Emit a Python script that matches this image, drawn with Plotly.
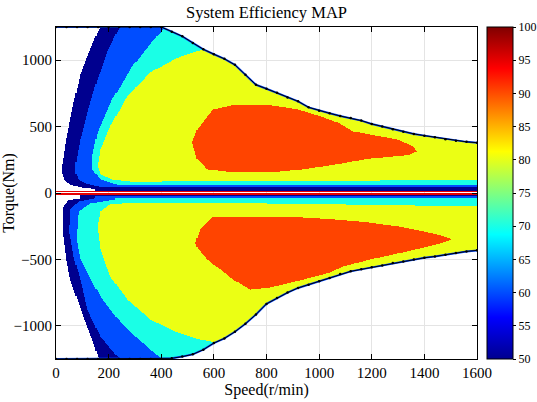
import numpy as np
import plotly.graph_objects as go

# ---------------- data ----------------
# torque envelope (Nm) sampled every 40 r/min from 0 to 1600
env_speed = list(range(0, 1601, 40))
env_upper = [1250] * 11 + [1215, 1180, 1130, 1082, 1045, 1010, 965, 890, 815, 785,
                           755, 720, 690, 645, 620, 600, 580, 565, 545, 520,
                           500, 480, 462, 445, 432, 420, 405, 393, 385, 379]
env_lower = [-1250] * 11 + [-1245, -1232, -1215, -1180, -1130, -1095, -1045, -985, -915, -835,
                            -790, -750, -715, -690, -665, -640, -610, -590, -575, -560,
                            -545, -528, -515, -500, -488, -478, -465, -452, -440, -432]

# low-speed (left) edges of each efficiency band: torque -> speed
up_50_T = [1255, 1082, 894, 629, 403, 214, 139, 93, 63, 41, 29]
up_50_S = [168, 130, 92, 62, 39, 24, 24, 32, 54, 92, 149]
up_60_T = [1255, 1082, 855, 629, 403, 252, 161, 101, 71, 48]
up_60_S = [244, 199, 157, 123, 92, 77, 73, 84, 111, 161]
up_70_T = [1233, 1119, 953, 704, 455, 274, 176, 101, 61]
up_70_S = [408, 358, 290, 214, 157, 138, 138, 168, 233]
up_80_T = [1081, 1028, 908, 727, 501, 328, 200, 139, 100, 85]
up_80_S = [561, 473, 358, 271, 206, 168, 157, 168, 214, 282]

lo_50_T = [-42, -57, -103, -276, -502, -653, -804, -955, -1105, -1241]
lo_50_S = [92, 47, 28, 24, 39, 54, 81, 108, 138, 161]
lo_60_T = [-42, -65, -125, -299, -502, -653, -879, -1083, -1241]
lo_60_S = [149, 85, 54, 51, 70, 92, 119, 168, 237]
lo_70_T = [-50, -80, -140, -351, -502, -615, -804, -992, -1128, -1241]
lo_70_S = [226, 130, 85, 77, 92, 122, 176, 252, 328, 396]
lo_80_T = [-72, -85, -140, -253, -427, -630, -804, -955, -1053, -1105, -1128]
lo_80_S = [320, 206, 168, 157, 168, 206, 271, 358, 461, 548, 613]

# torque cut-offs of the bands near zero torque (vs speed)
cut_speed = [0, 400, 800, 1200, 1600]
up_cut = {50: [17] * 5, 60: [41] * 5, 70: [61] * 5, 80: [85, 85, 86, 92, 99]}
lo_cut = {50: [-15] * 5, 60: [-27] * 5, 70: [-40] * 5, 80: [-72, -74, -80, -90, -102]}
stripe_inner = 4    # |T| below this: no data (white line)
stripe_outer = 14   # |T| up to this: >= 90 % (red lines)

# >=90 % islands (speed, torque)
red_up_S = [518, 537, 567, 598, 674, 814, 917, 1004, 1069, 1130, 1194, 1297, 1358, 1373,
            1346, 1320, 1194, 1069, 940, 814, 674, 575, 537]
red_up_T = [380, 478, 554, 629, 660, 660, 629, 576, 531, 463, 440, 403, 350, 313,
            290, 282, 259, 214, 176, 154, 154, 176, 252]
red_lo_S = [530, 548, 598, 814, 940, 1069, 1194, 1320, 1449, 1506, 1449, 1320, 1194,
            1092, 1042, 940, 814, 738, 674, 575, 541]
red_lo_T = [-379, -276, -178, -178, -185, -201, -223, -261, -314, -351, -389, -449, -502,
            -555, -600, -653, -713, -728, -653, -502, -427]

band_values = [55, 65, 75, 85, 95]
band_colors = ['rgb(0,0,143)', 'rgb(0,77,255)', 'rgb(26,255,230)', 'rgb(235,255,20)', 'rgb(255,68,0)']
stripe_value = 92
x_ticks = list(range(0, 1601, 200))
y_ticks = [-1000, -500, 0, 500, 1000]
cb_ticks = list(range(50, 101, 5))

# ---------------- build efficiency grid ----------------
sp = np.arange(0, 1601, 4, dtype=float)
tq = np.arange(-1250, 1250.1, 2.5, dtype=float)
S, T = np.meshgrid(sp, tq)

inside = (T <= np.interp(S, env_speed, env_upper)) & (T >= np.interp(S, env_speed, env_lower))


def edge(tv, sv):
    tv = np.asarray(tv, float)
    sv = np.asarray(sv, float)
    o = np.argsort(tv)
    return np.interp(T, tv[o], sv[o])


def in_poly(xs, ys):
    res = np.zeros(S.shape, bool)
    n = len(xs)
    j = n - 1
    for i in range(n):
        xi, yi, xj, yj = xs[i], ys[i], xs[j], ys[j]
        if yj != yi:
            cond = ((yi > T) != (yj > T)) & (S < (xj - xi) * (T - yi) / (yj - yi) + xi)
            res ^= cond
        j = i
    return res


Z = np.full(S.shape, np.nan, dtype=np.float32)
edges_up = {50: (up_50_T, up_50_S), 60: (up_60_T, up_60_S), 70: (up_70_T, up_70_S), 80: (up_80_T, up_80_S)}
edges_lo = {50: (lo_50_T, lo_50_S), 60: (lo_60_T, lo_60_S), 70: (lo_70_T, lo_70_S), 80: (lo_80_T, lo_80_S)}
for k, L in enumerate([50, 60, 70, 80]):
    mu = (T >= np.interp(S, cut_speed, up_cut[L])) & (S >= edge(*edges_up[L]))
    ml = (T <= np.interp(S, cut_speed, lo_cut[L])) & (S >= edge(*edges_lo[L]))
    Z[inside & (mu | ml)] = band_values[k]
Z[inside & (in_poly(red_up_S, red_up_T) | in_poly(red_lo_S, red_lo_T))] = band_values[4]
Z[(np.abs(T) >= stripe_inner) & (np.abs(T) <= stripe_outer)] = stripe_value
Z[np.abs(T) < stripe_inner] = np.nan

# ---------------- figure ----------------
fill_scale = [[0, band_colors[0]], [0.25, band_colors[1]], [0.5, band_colors[2]],
              [0.75, band_colors[3]], [0.925, 'rgb(230,0,0)'], [1, band_colors[4]]]
jet = [[0, 'rgb(0,0,143)'], [0.125, 'rgb(0,0,255)'], [0.375, 'rgb(0,255,255)'],
       [0.625, 'rgb(255,255,0)'], [0.875, 'rgb(255,0,0)'], [1, 'rgb(128,0,0)']]

fig = go.Figure()
fig.add_trace(go.Heatmap(
    x=sp, y=tq, z=Z, zmin=band_values[0], zmax=band_values[-1],
    colorscale=fill_scale, showscale=False, hoverinfo='skip', zsmooth=False))

for env in (env_upper, env_lower):
    fig.add_trace(go.Scatter(x=env_speed, y=env, mode='lines', line=dict(color='rgb(0,70,255)', width=2),
                             hoverinfo='skip', showlegend=False))
    fig.add_trace(go.Scatter(x=env_speed, y=env, mode='lines+markers', line=dict(color='black', width=1),
                             marker=dict(color='black', size=2.5), hoverinfo='skip', showlegend=False))

fig.add_trace(go.Scatter(
    x=[800], y=[0], mode='markers', hoverinfo='skip', showlegend=False,
    marker=dict(size=1, opacity=0, color=[75], cmin=50, cmax=100, colorscale=jet, showscale=True,
                colorbar=dict(x=1.0238, xanchor='left', xpad=0, ypad=0, y=0.5, yanchor='middle',
                              len=1, lenmode='fraction', thickness=26, thicknessmode='pixels',
                              outlinewidth=1, outlinecolor='black',
                              tickvals=cb_ticks, ticks='outside', ticklen=3, tickcolor='black',
                              tickfont=dict(family='Liberation Serif', size=12, color='black')))))

axis_common = dict(showline=True, linecolor='black', linewidth=1, mirror='ticks', ticks='inside',
                   ticklen=5, tickcolor='black', showgrid=True, gridcolor='rgb(228,228,228)',
                   zeroline=False, tickfont=dict(family='Liberation Serif', size=15, color='black'))
fig.update_layout(
    width=537, height=402,
    margin=dict(l=56, r=60, t=27, b=43, autoexpand=False),
    plot_bgcolor='white', paper_bgcolor='white',
    title=dict(text='System Efficiency MAP', x=0.5, xref='paper', xanchor='center',
               y=0.97, yref='container', yanchor='middle',
               font=dict(family='Liberation Serif', size=16.5, color='black')),
    xaxis=dict(range=[0, 1600], tickvals=x_ticks,
               title=dict(text='Speed(r/min)', font=dict(family='Liberation Serif', size=16, color='black'),
                          standoff=2),
               **axis_common),
    yaxis=dict(range=[-1250, 1250], tickvals=y_ticks,
               title=dict(text='Torque(Nm)', font=dict(family='Liberation Serif', size=16, color='black'),
                          standoff=4),
               **axis_common),
    showlegend=False,
)
fig.write_html('out.html')
